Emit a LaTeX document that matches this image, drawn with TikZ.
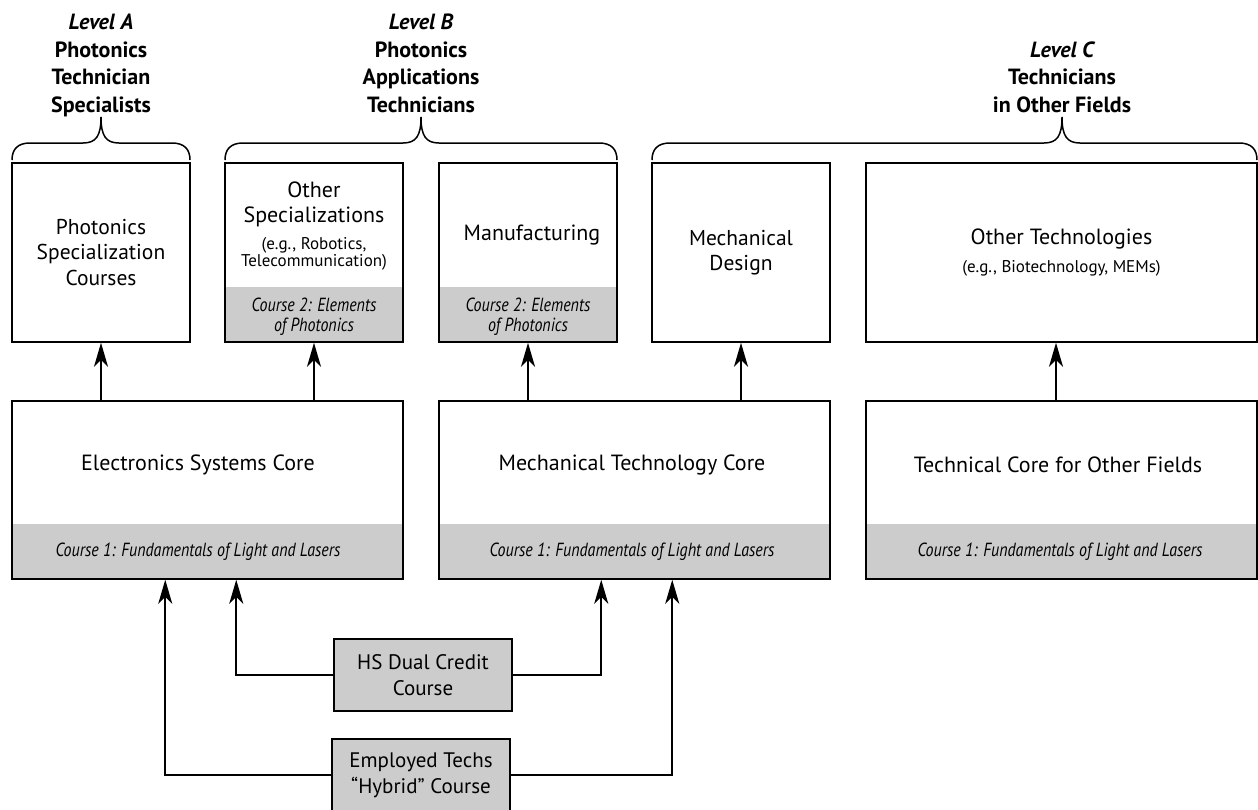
\documentclass[tikz,border=0pt]{standalone}
\usepackage{fontspec}
\setmainfont{PT Sans}
\newfontfamily\coursefont{PT Sans}[FakeStretch=0.84]
\usetikzlibrary{arrows.meta,positioning,calc}
\definecolor{bandgray}{gray}{0.8}

\tikzset{
  box/.style={draw, line width=1.5pt, minimum width=178pt, minimum height=179pt,
              inner sep=0pt, align=center, font=\fontsize{21.5}{25.5}\selectfont},
  wide/.style={minimum width=391pt},
  band/.style={path picture={\fill[bandgray] ([yshift=55pt]path picture bounding box.south west)
                 rectangle (path picture bounding box.south east);}},
  txt/.style={align=center, inner sep=0pt, font=\fontsize{22}{25.5}\selectfont},
  small/.style={align=center, inner sep=0pt, font=\fontsize{17}{17}\selectfont},
  course/.style={align=center, inner sep=0pt, font=\coursefont\itshape\fontsize{19}{20}\selectfont},
  feed/.style={draw, fill=bandgray, line width=1.5pt, minimum width=178pt, minimum height=72pt,
               inner sep=0pt, align=center, font=\fontsize{21}{26}\selectfont},
  lvl/.style={align=center, inner sep=0pt, anchor=north, font=\bfseries\fontsize{22}{27.5}\selectfont},
  arr/.style={line width=2pt, -{Stealth[length=24pt,width=14pt,inset=7pt]}},
  brc/.style={line width=1.5pt}
}

% brace from x=#1 to x=#3, tip at x=#2
\newcommand\levelbrace[3]{%
  \draw[brc] (#1,160) .. controls (#1,149) and (#1+6,143) .. (#1+18,143) -- (#2-18,143)
    .. controls (#2-5,143) and (#2,136) .. (#2,117)
    .. controls (#2,136) and (#2+5,143) .. (#2+18,143) -- (#3-18,143)
    .. controls (#3-6,143) and (#3,149) .. (#3,160);}

\begin{document}
\begin{tikzpicture}[x=1pt,y=-1pt]
\useasboundingbox (0,0) rectangle (1258,809);

% levels
\node[lvl] (lvlA) at (101,14) {\itshape Level A\\Photonics\\Technician\\Specialists};
\node[lvl] (lvlB) at (421,14) {\itshape Level B\\Photonics\\Applications\\Technicians};
\node[lvl] (lvlC) at (1062,41.5) {\itshape Level C\\Technicians\\in Other Fields};
\levelbrace{12}{101}{190}
\levelbrace{225}{421}{617}
\levelbrace{652}{1062}{1257}

% top row
\node[box] (spec) at (101,252.5) {Photonics\\Specialization\\Courses};
\node[box, band] (other) at (314,252.5) {};
\node[txt] (otherT) at (314,204.5) {Other\\Specializations};
\node[small] (otherE) at (314,253.5) {(e.g., Robotics,\\Telecommunication)};
\node[course] (otherC) at (314,317) {Course 2: Elements\\of Photonics};
\node[box, band] (manu) at (528,252.5) {};
\node[txt] (manuT) at (532,235) {Manufacturing};
\node[course] (manuC) at (528,317) {Course 2: Elements\\of Photonics};
\node[box] (mech) at (741,252.5) {Mechanical\\Design};
\node[box, wide] (tech) at (1061.5,252.5) {};
\node[txt] (techT) at (1061.5,239) {Other Technologies};
\node[small] (techE) at (1061.5,268) {(e.g., Biotechnology, MEMs)};

% cores
\node[box, wide, band, minimum height=178pt] (elec) at (207.5,490) {};
\node[txt] (elecT) at (198,465) {Electronics Systems Core};
\node[course] (elecC) at (198,552) {Course 1: Fundamentals of Light and Lasers};
\node[box, wide, band, minimum height=178pt] (mcore) at (634.5,490) {};
\node[txt] (mcoreT) at (632,465) {Mechanical Technology Core};
\node[course] (mcoreC) at (632,552) {Course 1: Fundamentals of Light and Lasers};
\node[box, wide, band, minimum height=178pt] (tcore) at (1061.5,490) {};
\node[txt] (tcoreT) at (1058,465) {Technical Core for Other Fields};
\node[course] (tcoreC) at (1060,552) {Course 1: Fundamentals of Light and Lasers};

\draw[arr] (elec.north -| spec.south) -- (spec.south);
\draw[arr] (elec.north -| other.south) -- (other.south);
\draw[arr] (mcore.north -| manu.south) -- (manu.south);
\draw[arr] (mcore.north -| mech.south) -- (mech.south);
\draw[arr] ([xshift=-5.5pt]tcore.north -| tech.south) -- ([xshift=-5.5pt]tech.south);

% entry courses
\node[feed] (hs) at (423,675) {HS Dual Credit\\Course};
\node[feed] (emp) at (421,775) {Employed Techs\\``Hybrid'' Course};
\draw[arr] (hs.west) -| ([xshift=225pt]elec.south west);
\draw[arr] (hs.east) -| ([xshift=163pt]mcore.south west);
\draw[arr] (emp.west) -| ([xshift=154pt]elec.south west);
\draw[arr] (emp.east) -| ([xshift=234pt]mcore.south west);
\end{tikzpicture}
\end{document}
